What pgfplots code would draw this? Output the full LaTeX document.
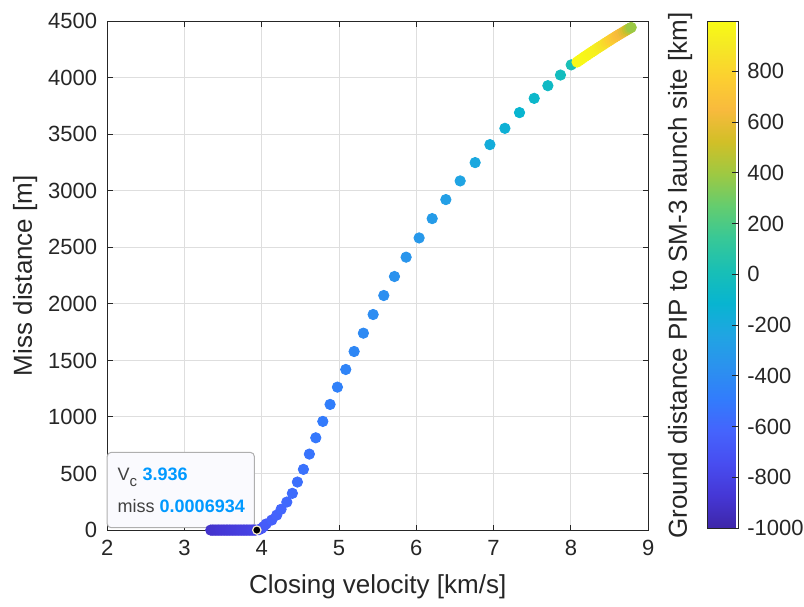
\documentclass[border=0pt]{standalone}
\usepackage{pgfplots}
\usepackage{pgfplotstable}
\pgfplotsset{compat=1.18}
\usepackage{fontspec}
\setmainfont{Liberation Sans}
\definecolor{axc}{RGB}{38,38,38}
\definecolor{gridc}{RGB}{222,222,222}
\definecolor{tipblue}{RGB}{0,153,255}
\definecolor{tipgray}{RGB}{64,64,64}
\definecolor{tipedge}{RGB}{175,175,175}
\definecolor{tipfill}{RGB}{250,250,254}
\definecolor{tipring}{RGB}{250,240,200}

\pgfplotstableread{
x y c
3.34 0 -900
3.36 0 -897
3.38 0 -894
3.40 0 -890
3.42 0 -887
3.44 0 -884
3.46 0 -880
3.48 0 -877
3.50 0 -874
3.52 0 -870
3.54 0 -867
3.56 0 -864
3.58 0 -860
3.60 0 -857
3.62 0 -854
3.64 0 -850
3.66 0 -847
3.68 0 -844
3.70 0 -840
3.72 0 -837
3.74 0 -834
3.76 0 -830
3.78 0 -827
3.80 0 -824
3.82 0 -820
3.84 0 -817
3.86 0 -814
3.88 0 -810
3.90 0 -807
3.92 0 -804
3.965 4 -720
3.995 14 -700
4.025 31 -680
4.056 54 -660
4.130 89 -640
4.194 133 -622
4.250 184 -605
4.324 248 -590
4.396 325 -575
4.461 425 -560
4.539 537 -545
4.616 672 -530
4.699 816 -513
4.790 961 -496
4.884 1111 -479
4.979 1264 -462
5.087 1420 -445
5.195 1579 -428
5.315 1741 -411
5.441 1906 -394
5.579 2074 -377
5.717 2242 -360
5.868 2413 -342
6.036 2583 -322
6.205 2754 -300
6.382 2922 -275
6.567 3087 -245
6.761 3249 -212
6.952 3408 -178
7.146 3552 -145
7.335 3691 -112
7.525 3817 -82
7.702 3929 -55
7.865 4023 -25
8.004 4113 15
8.080 4138 990
8.105 4150 988
8.130 4162 985
8.155 4174 982
8.180 4186 978
8.205 4197 974
8.230 4209 969
8.255 4220 963
8.280 4231 956
8.305 4243 948
8.330 4254 938
8.355 4265 926
8.380 4276 910
8.405 4287 890
8.430 4298 866
8.455 4309 840
8.480 4320 812
8.505 4331 785
8.530 4342 760
8.555 4352 735
8.580 4363 710
8.605 4374 685
8.630 4384 660
8.655 4394 632
8.680 4404 600
8.705 4414 560
8.730 4424 510
8.755 4434 450
8.780 4444 390
}\pts

\pgfplotsset{
  colormap={parula}{rgb(0cm)=(0.2422,0.1504,0.6603); rgb(4cm)=(0.2706,0.2147,0.8364); rgb(8cm)=(0.2813,0.3006,0.9414); rgb(12cm)=(0.2699,0.3892,0.9906); rgb(16cm)=(0.1963,0.4847,0.9892); rgb(20cm)=(0.1687,0.5703,0.9359); rgb(24cm)=(0.1248,0.6459,0.8883); rgb(28cm)=(0.0297,0.7082,0.8163); rgb(32cm)=(0.0964,0.7500,0.7120); rgb(36cm)=(0.2161,0.7843,0.5923); rgb(40cm)=(0.3909,0.8029,0.4354); rgb(44cm)=(0.6174,0.7876,0.2612); rgb(48cm)=(0.8203,0.7498,0.1535); rgb(52cm)=(0.9728,0.7298,0.2394); rgb(56cm)=(0.9892,0.8136,0.1885); rgb(60cm)=(0.9597,0.9135,0.1423); rgb(63cm)=(0.9769,0.9839,0.0805)}
}

\begin{document}
\begin{tikzpicture}
\begin{axis}[
  scale only axis, width=270.5pt, height=254.5pt,
  xmin=2, xmax=9, ymin=0, ymax=4500,
  xtick={2,3,...,9}, ytick={0,500,...,4500},
  grid=major, grid style={gridc, line width=0.5pt},
  axis line style={axc, line width=0.5pt},
  tick style={axc, line width=0.5pt},
  tick align=inside, major tick length=2.7pt,
  tick label style={font=\fontsize{11}{13}\selectfont, text=axc},
  xticklabel style={yshift=-1.5pt},
  yticklabel style={xshift=-1.5pt},
  /pgf/number format/assume math mode=true,
  /pgf/number format/1000 sep={},
  xlabel={Closing velocity [km/s]},
  ylabel={Miss distance [m]},
  label style={font=\fontsize{13}{15}\selectfont, text=axc},
  xlabel style={at={(axis description cs:0.5,-0.112)}, anchor=center},
  ylabel style={at={(axis description cs:-0.1516,0.5)}, anchor=center},
  colormap name=parula,
  point meta min=-1000, point meta max=998,
  colorbar,
  colorbar style={
    at={(parent axis.north east)}, anchor=north west, xshift=21pt,
    scale only axis, width=15.5pt, height=253.5pt,
    ytick={-1000,-800,...,800},
    yticklabel pos=right, ytick pos=right,
    tick align=inside, major tick length=3pt,
    axis line style={axc, line width=0.5pt},
    tick style={axc, line width=0.5pt},
    yticklabel style={font=\fontsize{11}{13}\selectfont, text=axc, xshift=1pt},
    /pgf/number format/assume math mode=true,
    /pgf/number format/1000 sep={},
  },
  clip=false,
]
\addplot[scatter, only marks, scatter src=explicit, mark=*, mark size=2.6pt,
  scatter/use mapped color={draw=mapped color, fill=mapped color}] table[x=x, y=y, meta=c] {\pts};
\addplot[only marks, mark=*, mark size=2.1pt, mark options={fill=black, draw=tipring, line width=0.6pt}] coordinates {(3.936,0.0006934)};
\draw[draw=tipedge, fill=tipfill, rounded corners=2pt, line width=0.5pt] (axis cs:2,21) rectangle (axis cs:3.904,687);
\node[anchor=base west, inner sep=0pt, font=\fontsize{9}{11}\selectfont, text=tipgray] at (axis cs:2.131,436) {V\raisebox{-0.55ex}{\fontsize{7.5}{9}\selectfont c}\hspace{0.3em}\textcolor{tipblue}{\bfseries 3.936}};
\node[anchor=base west, inner sep=0pt, font=\fontsize{9}{11}\selectfont, text=tipgray] at (axis cs:2.131,154) {miss \textcolor{tipblue}{\bfseries 0.0006934}};
\node[rotate=90, font=\fontsize{13}{15}\selectfont, text=axc] at (axis description cs:1.059,0.5) {Ground distance PIP to SM-3 launch site [km]};
\coordinate (O) at (rel axis cs:0,0);
\end{axis}
\pgfresetboundingbox
\useasboundingbox ([shift={(-53.6pt,-37.95pt)}]O) rectangle ([shift={(348.4pt,265.05pt)}]O);
\end{tikzpicture}
\end{document}
